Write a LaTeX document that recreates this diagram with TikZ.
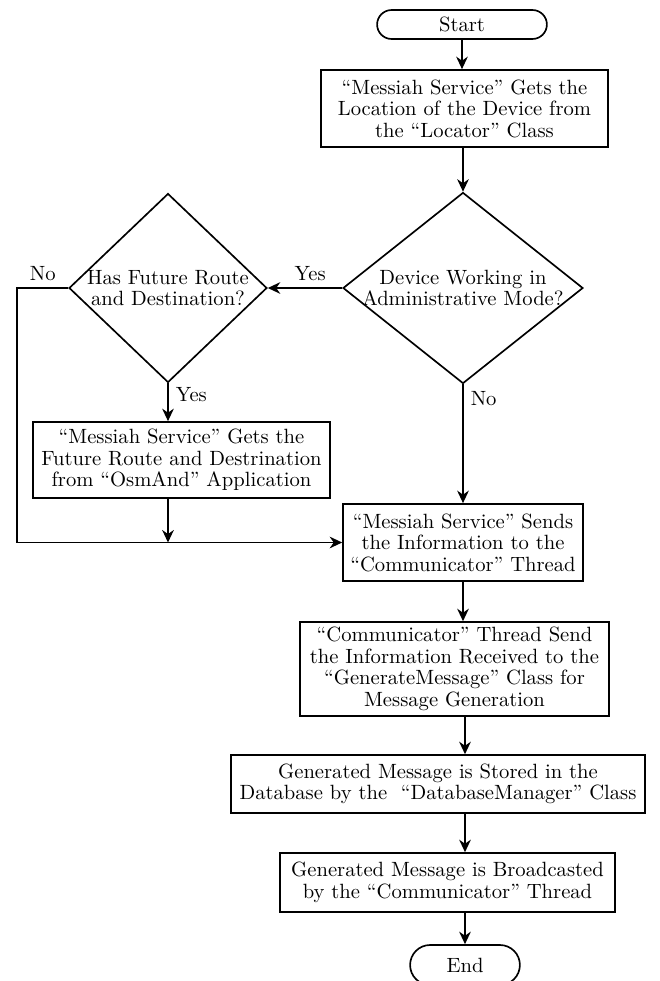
\documentclass[tikz,border=0pt]{standalone}
\usepackage{tikz}
\usetikzlibrary{shapes.geometric,shapes.misc,arrows.meta}

\tikzset{every picture/.style={line width=0.8pt}}
\tikzset{
  flowtext/.style={font=\fontsize{9.9}{10.3}\selectfont},
  procbox/.style={draw, rectangle, inner sep=1pt, align=center, flowtext},
  decbox/.style={draw, diamond, inner sep=-3pt, align=center, flowtext},
  termbox/.style={draw, rounded rectangle, inner sep=1pt, flowtext},
  flowarr/.style={-{Stealth[length=6pt,width=5.6pt]}},
}

\begin{document}
\begin{tikzpicture}[x=0.48pt,y=0.48pt,yscale=-1,xscale=1]
    %set diagram size to 659 x 981
    \path[use as bounding box] (0,0) rectangle (659,981);

    %Flowchart: Terminator
    \node[termbox, minimum width=83.5pt, minimum height=13.9pt] (start) at (462,24.5) {Start};
    %Flowchart: Process
    \node[procbox, minimum width=137.8pt, minimum height=37pt] (locate) at (464.5,108.5)
        {``Messiah Service'' Gets the\\Location of the Device from\\the ``Locator'' Class};
    %Flowchart: Decision
    \node[decbox, aspect=1.256, minimum width=115.2pt, minimum height=91.7pt] (admin) at (463,288)
        {Device Working in\\Administrative Mode?};
    %Flowchart: Decision
    \node[decbox, aspect=1.046, minimum width=95pt, minimum height=90.7pt] (route) at (168,288)
        {Has Future Route\\and Destination?};
    %Flowchart: Process
    \node[procbox, minimum width=142.6pt, minimum height=36.5pt] (osmand) at (181.5,460)
        {``Messiah Service'' Gets the\\Future Route and Destrination\\from ``OsmAnd'' Application};
    %Flowchart: Process
    \node[procbox, minimum width=115.2pt, minimum height=37pt] (sends) at (463,542.5)
        {``Messiah Service'' Sends\\the Information to the\\``Communicator'' Thread};
    %Flowchart: Process
    \node[procbox, minimum width=148.3pt, minimum height=45.1pt] (commsend) at (454.5,669)
        {``Communicator'' Thread Send\\the Information Received to the\\``GenerateMessage'' Class for\\Message Generation};
    %Flowchart: Process
    \node[procbox, minimum width=198.7pt, minimum height=27.8pt] (stored) at (438,784)
        {Generated Message is Stored in the\\Database by the\ \ ``DatabaseManager'' Class};
    %Flowchart: Process
    \node[procbox, minimum width=160.8pt, minimum height=28.3pt] (broadcast) at (447.5,882.5)
        {Generated Message is Broadcasted\\by the ``Communicator'' Thread};
    %Flowchart: Terminator
    \node[termbox, minimum width=54.7pt, minimum height=19.2pt] (fin) at (465,965) {End};

    %Straight Lines
    \draw[flowarr] (start.south) -- (start.south |- locate.north);
    \draw[flowarr] (admin.north |- locate.south) -- (admin.north);
    \draw[flowarr] (admin.west) -- node[pos=0.43, above, flowtext] {Yes} (route.east);
    \draw[flowarr] (route.west) -- node[above, flowtext] {No} ++(-51,0) |- (sends.west);
    \draw[flowarr] (route.south) -- node[pos=0.3, anchor=west, flowtext] {Yes} (route.south |- osmand.north);
    \draw[flowarr] (route.south |- osmand.south) -- (route.south |- sends.west);
    \draw[flowarr] (admin.south) -- node[pos=0.12, anchor=west, flowtext] {No} (admin.south |- sends.north);
    \draw[flowarr] (sends.south) -- (sends.south |- commsend.north);
    \draw[flowarr] (fin.north |- commsend.south) -- (fin.north |- stored.north);
    \draw[flowarr] (fin.north |- stored.south) -- (fin.north |- broadcast.north);
    \draw[flowarr] (fin.north |- broadcast.south) -- (fin.north);

\end{tikzpicture}
\end{document}
